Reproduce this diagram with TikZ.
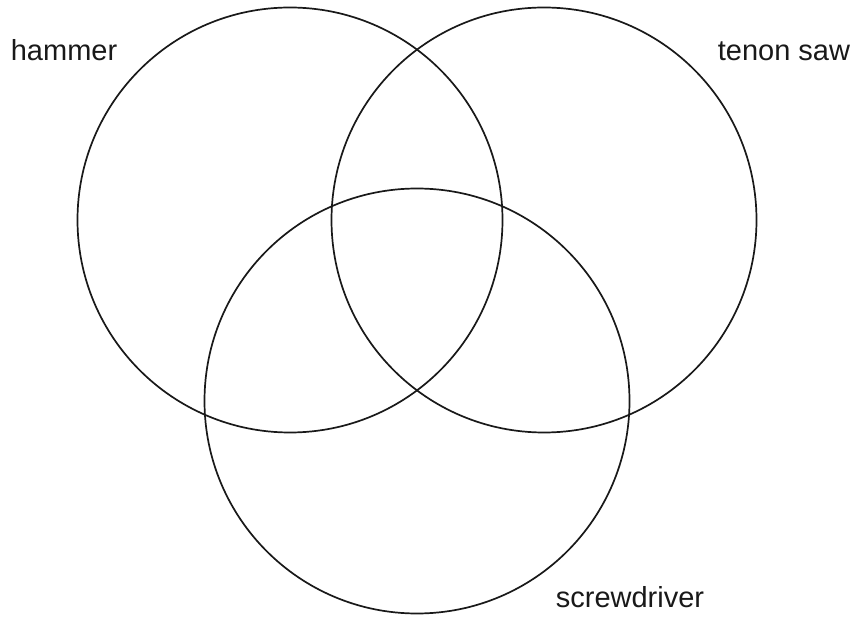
\documentclass[tikz,border=0pt]{standalone}
\usepackage{fontspec}
\setmainfont{Liberation Sans}
\begin{document}
\begin{tikzpicture}[x=0.5pt, y=-0.5pt, line width=0.85pt,
  conjunto/.style={draw, black!90},
  etiqueta/.style={anchor=base west, inner sep=0pt, text=black!90,
                   font=\fontsize{14.5}{17}\selectfont}]

  \useasboundingbox (0,0) rectangle (851,619);

  % --- Conjuntos ---
  \draw[conjunto] (290,220) circle[radius=212.5];
  \draw[conjunto] (544,220) circle[radius=212.5];
  \draw[conjunto] (417,401) circle[radius=212.5];

  % --- Etiquetas ---
  \node[etiqueta] (hammer) at (10,61) {hammer};
  \node[etiqueta] (saw) at (717,61) {tenon saw};
  \node[etiqueta] (screw) at (555,607) {screwdriver};

\end{tikzpicture}
\end{document}
